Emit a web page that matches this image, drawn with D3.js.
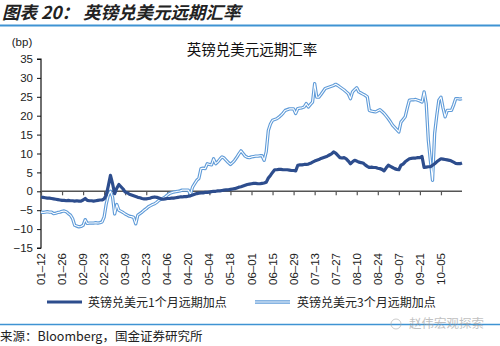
<!DOCTYPE html>
<html><head><meta charset="utf-8">
<script src="https://cdn.jsdelivr.net/npm/d3@7"></script>
<style>
html,body{margin:0;padding:0;background:#fff;}
svg{display:block;}
</style></head>
<body><svg id="c" width="500" height="346"></svg>
<script>
// Tick labels (category axis, one label every 10 business days)
const tickLabels = ["01-12","01-26","02-09","02-23","03-09","03-23","04-06","04-20","05-04","05-18",
  "06-01","06-15","06-29","07-13","07-27","08-10","08-24","09-07","09-21","10-05"];
const yTicks = [35,30,25,20,15,10,5,0,-5,-10,-15];
// 英镑兑美元1个月远期加点 (bp), one value per business day
const fwd1m = [
 -1.5,-1.6,-1.7,-1.8,-1.8,-1.9,-2.0,-2.1,-2.2,-2.3,
 -2.4,-2.4,-2.5,-2.4,-2.5,-2.5,-2.6,-2.5,-2.6,-2.6,
 -2.3,-1.9,-2.4,-2.5,-2.5,-2.6,-2.5,-2.4,-2.3,-2.3,
 -2.0,-1.0,1.5,4.2,2.0,-0.6,0.8,1.8,1.2,0.6,
 -0.2,-0.4,-0.8,-1.0,-1.2,-1.4,-1.6,-1.7,-1.9,-2.0,
 -2.0,-1.9,-1.8,-1.6,-1.5,-1.6,-1.8,-2.0,-2.1,-2.0,
 -1.9,-1.9,-1.8,-1.8,-1.7,-1.6,-1.5,-1.5,-1.4,-1.4,
 -1.3,-1.2,-1.0,-0.8,-0.6,-0.5,-0.4,-0.4,-0.3,-0.3,
 -0.2,-0.1,0.0,0.0,0.1,0.1,0.2,0.3,0.4,0.4,
 0.5,0.6,0.7,0.9,1.1,1.2,1.4,1.6,1.8,1.9,
 2.0,2.1,2.1,2.0,2.0,2.1,2.2,2.4,3.5,4.2,
 5.0,5.7,5.7,5.8,5.8,5.7,5.7,5.7,5.6,5.5,
 5.5,5.4,6.9,7.0,7.0,7.1,7.1,7.2,7.4,7.7,
 8.0,8.2,8.4,8.7,8.9,9.1,9.3,9.6,9.9,10.4,
 10.1,9.5,8.9,8.8,8.9,8.6,8.0,7.3,7.8,8.2,
 8.0,7.7,7.6,7.5,7.0,6.6,6.3,6.4,6.3,6.3,
 6.1,6.0,5.8,5.4,6.2,6.9,6.6,6.3,6.0,5.8,
 5.7,6.9,7.2,7.8,8.2,8.6,8.7,8.8,8.8,8.9,
 8.9,9.2,6.3,6.4,6.5,6.5,6.9,7.3,7.8,8.2,
 8.6,8.5,8.4,8.3,8.2,8.0,7.7,7.4,7.3,7.3,
 7.5];
// 英镑兑美元3个月远期加点 (bp)
const fwd3m = [
 -5.5,-5.6,-5.5,-5.4,-5.5,-5.5,-5.9,-5.8,-5.6,-5.5,
 -5.3,-5.2,-5.4,-5.9,-6.3,-7.2,-9.0,-9.2,-9.4,-9.3,
 -9.0,-7.5,-8.5,-8.4,-8.4,-8.4,-8.3,-8.4,-8.3,-8.1,
 -6.8,-3.3,-1.0,0.0,-1.5,-6.0,-3.5,-5.0,-5.3,-5.6,
 -6.0,-6.3,-6.6,-6.7,-6.9,-8.6,-6.3,-5.9,-5.5,-5.0,
 -4.6,-4.1,-3.8,-3.5,-3.3,-2.9,-2.4,-2.1,-1.8,-1.5,
 -1.0,-0.6,-0.4,-0.2,-0.1,0.0,0.1,0.3,0.3,0.3,
 0.3,-0.8,1.1,2.0,2.9,3.4,6.0,6.1,6.0,7.3,
 7.1,7.0,8.6,7.3,7.8,8.5,9.1,8.8,8.2,7.6,
 7.1,7.6,8.2,9.0,9.9,10.7,10.0,9.3,9.0,8.9,
 9.1,9.2,9.3,9.3,9.4,9.4,8.2,10.5,16.1,17.8,
 18.8,19.0,19.2,19.6,20.1,20.7,21.4,21.6,21.8,21.8,
 21.8,20.6,21.9,22.0,22.1,22.3,23.2,22.3,23.0,23.6,
 28.5,24.9,24.9,25.6,26.4,27.2,27.4,27.6,27.8,28.0,
 28.3,28.0,27.6,27.2,26.8,26.3,25.8,24.5,26.3,26.9,
 27.4,26.3,26.0,25.7,25.4,25.0,21.4,21.2,21.1,21.0,
 21.3,21.6,21.1,20.6,19.9,19.2,18.4,17.5,16.9,16.3,
 15.7,18.3,19.0,19.7,22.0,24.1,24.2,24.2,24.3,24.1,
 23.9,23.6,26.3,23.2,13.5,8.0,2.9,15.3,20.0,24.1,
 24.9,22.0,19.7,21.4,21.4,21.4,22.8,24.5,24.5,24.4,
 24.5];
const seriesNames = ["英镑兑美元1个月远期加点","英镑兑美元3个月远期加点"];

const svg = d3.select("#c");
const cjk = "'Noto Sans CJK SC','Noto Sans',sans-serif";
const lat = "'Liberation Sans',Arial,sans-serif";

// header
svg.append("text").attr("x",2).attr("y",19).attr("font-family",cjk)
  .attr("font-size",17.5).attr("font-weight","bold").attr("font-style","italic")
  .attr("fill","#222").text("图表 20：  英镑兑美元远期汇率");
svg.append("line").attr("x1",0).attr("x2",500).attr("y1",25.5).attr("y2",25.5)
  .attr("stroke","#3f93d3").attr("stroke-width",2);

const x = d3.scaleLinear().domain([0,200]).range([41,462]);
const y = d3.scaleLinear().domain([-15,35]).range([248,59]);

// title
svg.append("text").attr("x",252).attr("y",55).attr("text-anchor","middle")
  .attr("font-family",cjk).attr("font-size",14.5).attr("fill","#111").text("英镑兑美元远期汇率");
svg.append("text").attr("x",22).attr("y",46).attr("text-anchor","middle")
  .attr("font-family",lat).attr("font-size",11.5).attr("fill","#222").text("(bp)");

// y axis
const yAxis = d3.axisLeft(y).tickValues(yTicks).tickSize(4).tickPadding(4).tickFormat(d=>d<0?"\u2212"+Math.abs(d):d);
const gy = svg.append("g").attr("transform","translate(41,0)").call(yAxis);
gy.select(".domain").attr("stroke","#111").attr("stroke-width",1.2).attr("d","M-4,59H0V248H-4");
gy.selectAll(".tick line").attr("stroke","#111");
gy.selectAll(".tick text").attr("font-family",lat).attr("font-size",11.5).attr("fill","#222");

// x axis at zero
const xAxis = d3.axisBottom(x).tickValues(d3.range(0,200,10)).tickSize(4).tickFormat("");
const gx = svg.append("g").attr("transform",`translate(0,${y(0)})`).call(xAxis);
gx.select(".domain").attr("stroke","#555").attr("stroke-width",1.5).attr("d","M41,0H462");
gx.selectAll(".tick line").attr("stroke","#555").attr("stroke-width",1.2);

// rotated x labels
svg.append("g").selectAll("text").data(tickLabels).join("text")
  .attr("transform",(d,i)=>`translate(${x(i*10)+4},253) rotate(-90)`)
  .attr("text-anchor","end").attr("font-family",lat).attr("font-size",11.5).attr("fill","#222")
  .text(d=>d.replace("-","\u2013"));

const line = d3.line().x((d,i)=>x(i)).y(d=>y(d));
// 3M light double line
svg.append("path").datum(fwd3m).attr("d",line).attr("fill","none")
  .attr("stroke","#5f9bd8").attr("stroke-width",3.3).attr("stroke-linejoin","round");
svg.append("path").datum(fwd3m).attr("d",line).attr("fill","none")
  .attr("stroke","#fff").attr("stroke-width",1.1).attr("stroke-linejoin","round");
// 1M dark line
svg.append("path").datum(fwd1m).attr("d",line).attr("fill","none")
  .attr("stroke","#2d4d8d").attr("stroke-width",3.2).attr("stroke-linejoin","round");

// legend
const lg = svg.append("g");
lg.append("line").attr("x1",47).attr("x2",82).attr("y1",302).attr("y2",302)
  .attr("stroke","#2d4d8d").attr("stroke-width",3.2);
lg.append("text").attr("x",88).attr("y",306.5).attr("font-family",cjk).attr("font-size",12)
  .attr("fill","#222").text(seriesNames[0]);
lg.append("line").attr("x1",255).attr("x2",290).attr("y1",302).attr("y2",302)
  .attr("stroke","#5f9bd8").attr("stroke-width",3.3);
lg.append("line").attr("x1",255).attr("x2",290).attr("y1",302).attr("y2",302)
  .attr("stroke","#fff").attr("stroke-width",1.1);
lg.append("text").attr("x",297).attr("y",306.5).attr("font-family",cjk).attr("font-size",12)
  .attr("fill","#222").text(seriesNames[1]);

// bottom
svg.append("line").attr("x1",0).attr("x2",500).attr("y1",324.5).attr("y2",324.5)
  .attr("stroke","#3f93d3").attr("stroke-width",1.5);
svg.append("text").attr("x",0).attr("y",341).attr("font-family",cjk).attr("font-size",12.5)
  .attr("fill","#222").text("来源：Bloomberg，国金证券研究所");
svg.append("text").attr("x",409).attr("y",328).attr("font-family",cjk).attr("font-size",12.5)
  .attr("fill","#999").attr("opacity",0.6).text("赵伟宏观探索");
svg.append("circle").attr("cx",396).attr("cy",324).attr("r",5).attr("fill","none")
  .attr("stroke","#aaa").attr("opacity",0.6);
</script></body></html>
